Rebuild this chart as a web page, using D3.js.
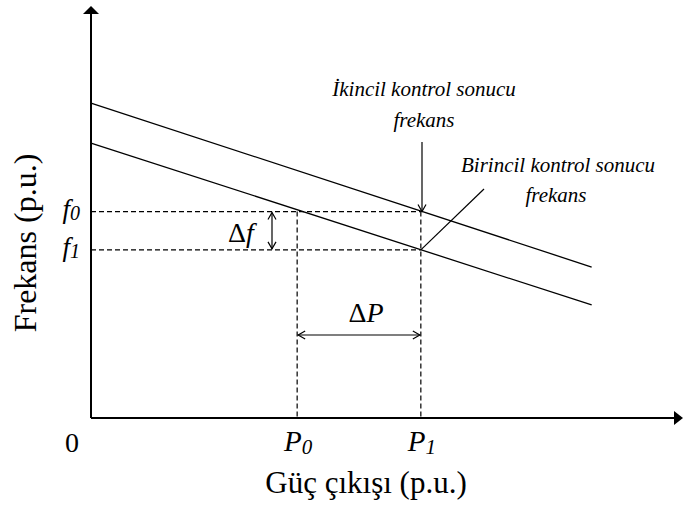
<!DOCTYPE html>
<html lang="en">
<head>
<meta charset="utf-8">
<title>Frekans - Güç</title>
<script src="https://d3js.org/d3.v7.min.js"></script>
<style>
  body { margin: 0; background: #fff; }
</style>
</head>
<body>
<script>
// data (arbitrary units)
const lineX = [0, 85];
const lineUpper = [77.2, 37.0];   // after secondary control
const lineLower = [67.4, 27.7];   // after primary control
const freqLabels = ["f0", "f1"];
const freqValues = [50.6, 41.2];
const powerLabels = ["P0", "P1"];
const powerValues = [35, 56];

const w = 686, h = 516;
const serif = "'Liberation Serif', 'Times New Roman', serif";
const svg = d3.select("body").append("svg").attr("width", w).attr("height", h);

const x = d3.scaleLinear().domain([0, 100]).range([91, 680]);
const y = d3.scaleLinear().domain([0, 100]).range([418, 10]);

function label(px, py, size, anchor) {
  return svg.append("text").attr("x", px).attr("y", py)
    .attr("font-family", serif).attr("font-size", size)
    .attr("text-anchor", anchor || "middle").attr("fill", "#000");
}

// axes
svg.append("line").attr("x1", x(0)).attr("x2", 676).attr("y1", y(0)).attr("y2", y(0))
   .attr("stroke", "#000").attr("stroke-width", 2);
svg.append("line").attr("x1", x(0)).attr("x2", x(0)).attr("y1", y(0)).attr("y2", 14)
   .attr("stroke", "#000").attr("stroke-width", 2);
svg.append("path").attr("d", "M683,418 L674,411 L674,425 Z").attr("fill", "#000");
svg.append("path").attr("d", "M91,6 L83,14 L99,14 Z").attr("fill", "#000");

// droop lines
const line = d3.line().x(d => x(d[0])).y(d => y(d[1]));
[lineUpper, lineLower].forEach(v => {
  svg.append("path").attr("d", line(lineX.map((lx, i) => [lx, v[i]])))
     .attr("fill", "none").attr("stroke", "#000").attr("stroke-width", 1.3);
});

// dashed guides
freqValues.forEach(f => {
  svg.append("line").attr("x1", x(0)).attr("x2", x(powerValues[1]))
     .attr("y1", y(f)).attr("y2", y(f))
     .attr("stroke", "#000").attr("stroke-width", 1.2).attr("stroke-dasharray", "5,3");
});
powerValues.forEach(p => {
  svg.append("line").attr("x1", x(p)).attr("x2", x(p))
     .attr("y1", y(freqValues[0])).attr("y2", y(0))
     .attr("stroke", "#000").attr("stroke-width", 1.2).attr("stroke-dasharray", "5,3");
});

// open arrow helper
function arrowHead(tx, ty, dx, dy) {
  const len = Math.hypot(dx, dy), ux = dx / len, uy = dy / len;
  const s = 7, wd = 4;
  const bx = tx - ux * s, by = ty - uy * s;
  svg.append("path")
     .attr("d", `M${bx - uy * wd},${by + ux * wd} L${tx},${ty} L${bx + uy * wd},${by - ux * wd}`)
     .attr("fill", "none").attr("stroke", "#000").attr("stroke-width", 1.2);
}
function dblArrow(x1, y1, x2, y2) {
  svg.append("line").attr("x1", x1).attr("y1", y1).attr("x2", x2).attr("y2", y2)
     .attr("stroke", "#000").attr("stroke-width", 1.2);
  arrowHead(x2, y2, x2 - x1, y2 - y1);
  arrowHead(x1, y1, x1 - x2, y1 - y2);
}

// Δf arrow
dblArrow(272, y(freqValues[0]) + 1, 272, y(freqValues[1]) - 1);
label(241, 242, 28).html('Δ<tspan font-style="italic">f</tspan>');

// ΔP arrow
dblArrow(x(powerValues[0]) + 1, 335, x(powerValues[1]) - 1, 335);
label(366, 322, 28).html('Δ<tspan font-style="italic">P</tspan>');

// tick labels
freqLabels.forEach((lab, i) => {
  const t = label(80, y(freqValues[i]) + 6, 27, "end").attr("font-style", "italic");
  t.append("tspan").text(lab[0]);
  t.append("tspan").attr("font-size", 20).attr("dy", 2).text(lab.slice(1));
});
powerLabels.forEach((lab, i) => {
  const t = label(x(powerValues[i]) + 1, 451, 29).attr("font-style", "italic");
  t.append("tspan").text(lab[0]);
  t.append("tspan").attr("font-size", 21).attr("dy", 3).text(lab.slice(1));
});
label(72, 452, 28).text("0");

// axis titles
label(366, 493, 31).text("Güç çıkışı (p.u.)");
label(0, 0, 32).attr("transform", "translate(36,243) rotate(-90)").text("Frekans (p.u.)");

// annotations
label(424, 96, 21).attr("font-style", "italic").text("İkincil kontrol sonucu");
label(424, 127, 21).attr("font-style", "italic").text("frekans");
svg.append("line").attr("x1", 422).attr("x2", 422).attr("y1", 142).attr("y2", y(freqValues[0]))
   .attr("stroke", "#000").attr("stroke-width", 1.2);
arrowHead(422, y(freqValues[0]), 0, 1);

label(558, 172, 21).attr("font-style", "italic").text("Birincil kontrol sonucu");
label(556, 202, 21).attr("font-style", "italic").text("frekans");
svg.append("line").attr("x1", x(powerValues[1])).attr("y1", y(freqValues[1]))
   .attr("x2", 484).attr("y2", 189).attr("stroke", "#000").attr("stroke-width", 1.2);
</script>
</body>
</html>
